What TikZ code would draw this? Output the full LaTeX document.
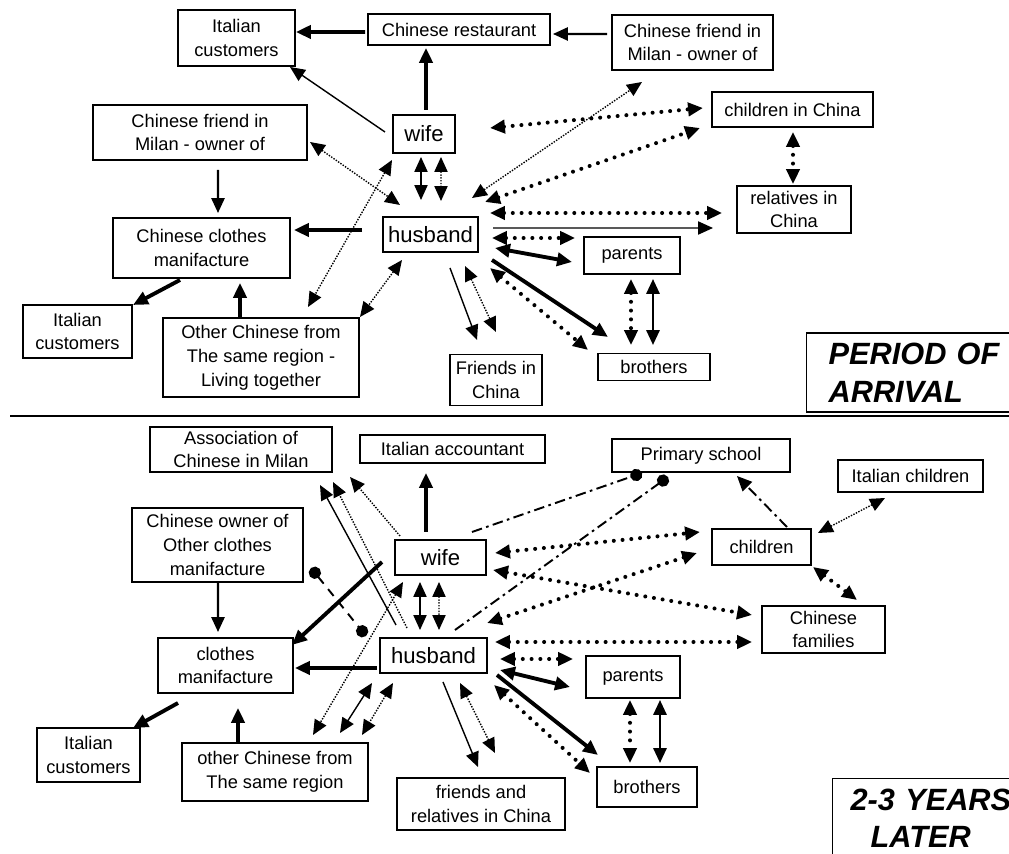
\documentclass[tikz,border=0pt]{standalone}
\usepackage{fontspec}
\setmainfont{Liberation Sans}
\usetikzlibrary{arrows.meta,calc}
\newlength\px\setlength\px{0.02cm}
\newcommand\boxfont{\fontsize{10.4}{13.6}\selectfont}
\newcommand\bigfont{\fontsize{12.6}{15}\selectfont}
\newcommand\ttlfont{\fontsize{17.5}{21.4}\selectfont\bfseries\itshape}
\tikzset{
  box/.style={draw,line width=0.7pt,inner sep=0pt,align=center,font=\boxfont},
  sz/.style 2 args={minimum width=#1\px,minimum height=#2\px},
  ttl/.style={draw,line width=0.7pt,inner ysep=0pt,font=\ttlfont},
  >={Triangle[length=8.5pt,width=7.5pt]},
  heavy/.style={line width=2.2pt,->},
  heavyboth/.style={line width=2.2pt,<->},
  mid/.style={line width=1.2pt,->},
  midboth/.style={line width=1.4pt,<->},
  lite/.style={line width=0.8pt,->},
  liteboth/.style={line width=0.8pt,<->},
  dotboth/.style={line width=2.3pt,line cap=round,dash pattern=on 0pt off 5pt,<->},
  fine/.style={line width=0.8pt,dash pattern=on 0.8pt off 0.8pt,->},
  fineboth/.style={line width=0.8pt,dash pattern=on 0.8pt off 0.8pt,<->},
  dashdot/.style={line width=1.1pt,dash pattern=on 6pt off 2.5pt on 1.5pt off 2.5pt},
  balls/.style={line width=1.1pt,dash pattern=on 5pt off 4pt,{Circle[length=7pt]}-{Circle[length=7pt]}}
}
\begin{document}
\begin{tikzpicture}[x=\px,y=-\px]
\useasboundingbox (0,0) rectangle (1009,854);
% period of arrival
\node[box,sz={117}{56}] (itcustA) at (236.5,38) {Italian\\customers};
\node[box,sz={182}{31}] (restA) at (459,29.5) {Chinese restaurant};
\node[box,sz={161}{55}] (friendRA) at (692.5,42.5) {Chinese friend in\\Milan - owner of};
\node[box,sz={62}{38},font=\bigfont] (wifeA) at (424,134) {wife};
\node[box,sz={214}{55}] (friendLA) at (200,132.5) {Chinese friend in\\Milan - owner of};
\node[box,sz={161}{35}] (childChA) at (792.5,109.5) {children in China};
\node[box,sz={114}{47}] (relChA) at (794,209.5) {relatives in\\China};
\node[box,sz={95}{35},font=\bigfont] (husbA) at (430.5,234.5) {husband};
\node[box,sz={177}{60}] (clothesA) at (201.5,248) {Chinese clothes\\manifacture};
\node[box,sz={96}{37}] (parentsA) at (632,255.5) {parents};
\node[box,sz={109}{53}] (itcustB) at (77.5,331.5) {Italian\\customers};
\node[box,sz={196}{79}] (otherA) at (261,357.5) {Other Chinese from\\The same region -\\Living together};
\node[box,sz={92}{51}] (friendsChA) at (496,380) {Friends in\\China};
\node[box,sz={112}{27}] (brothersA) at (654,367) {brothers};
\node[ttl,anchor=west,sz={224}{79},text width=180\px,inner xsep=22\px,align=left] (titleA) at (806,372.5) {PERIOD OF\\ARRIVAL};

\draw[heavy] ([shift={(-94,2.5)}]restA.center) -- ([shift={(59.5,-6)}]itcustA.center);
\draw[mid] ([shift={(-85.5,-8.5)}]friendRA.center) -- ([shift={(94,4.5)}]restA.center);
\draw[heavy] ([shift={(2,-24)}]wifeA.center) -- ([shift={(-33,18.5)}]restA.center);
\draw[lite] ([shift={(-39,-2)}]wifeA.center) -- ([shift={(53.5,29)}]itcustA.center);
\draw[mid] ([shift={(18,37.5)}]friendLA.center) -- ([shift={(16.5,-35)}]clothesA.center);
\draw[heavy] ([shift={(-68.5,-4.5)}]husbA.center) -- ([shift={(92.5,-18)}]clothesA.center);
\draw[heavy] ([shift={(-21.5,32)}]clothesA.center) -- ([shift={(55.5,-26.5)}]itcustB.center);
\draw[heavy] ([shift={(-21,-39.5)}]otherA.center) -- ([shift={(38.5,35)}]clothesA.center);
\draw[fineboth] ([shift={(110,9.5)}]friendLA.center) -- ([shift={(-30.5,-29.5)}]husbA.center);
\draw[fineboth] ([shift={(-32,26)}]wifeA.center) -- ([shift={(47,-50.5)}]otherA.center);
\draw[fineboth] ([shift={(-28.5,25.5)}]husbA.center) -- ([shift={(99,-40.5)}]otherA.center);
\draw[liteboth] ([shift={(-3,23)}]wifeA.center) -- ([shift={(-9.5,-34.5)}]husbA.center);
\draw[fineboth] ([shift={(17,23)}]wifeA.center) -- ([shift={(10.5,-33.5)}]husbA.center);
\draw[fineboth] ([shift={(41.5,-36.5)}]husbA.center) -- ([shift={(-50.5,39.5)}]friendRA.center);
\draw[dotboth] ([shift={(66,-6)}]wifeA.center) -- ([shift={(-89.5,-1.5)}]childChA.center);
\draw[dotboth] ([shift={(54.5,-32.5)}]husbA.center) -- ([shift={(-92.5,18.5)}]childChA.center);
\draw[dotboth] ([shift={(59.5,-21.5)}]husbA.center) -- ([shift={(-72,3.5)}]relChA.center);
\draw[lite] ([shift={(62.5,-6.5)}]husbA.center) -- ([shift={(-81,18.5)}]relChA.center);
\draw[dotboth] ([shift={(0.5,22.5)}]childChA.center) -- ([shift={(-1,-25.5)}]relChA.center);
\draw[dotboth] ([shift={(61.5,3.5)}]husbA.center) -- ([shift={(-57,-17.5)}]parentsA.center);
\draw[heavyboth] ([shift={(64.5,13.5)}]husbA.center) -- ([shift={(-60,6.5)}]parentsA.center);
\draw[heavy] ([shift={(61.5,25.5)}]husbA.center) -- ([shift={(-46,-30)}]brothersA.center);
\draw[dotboth] ([shift={(59.5,33.5)}]husbA.center) -- ([shift={(-66,-17)}]brothersA.center);
\draw[dotboth] ([shift={(-1,23.5)}]parentsA.center) -- ([shift={(-23,-22)}]brothersA.center);
\draw[midboth] ([shift={(21,23.5)}]parentsA.center) -- ([shift={(-1,-22)}]brothersA.center);
\draw[lite] ([shift={(19.5,33.5)}]husbA.center) -- ([shift={(-19,-40)}]friendsChA.center);
\draw[fineboth] ([shift={(34.5,31.5)}]husbA.center) -- ([shift={(0,-48)}]friendsChA.center);

\coordinate (sepL) at (10,416);\coordinate (sepR) at (1009,416);
\draw[line width=1.2pt] (sepL) -- (sepR);

% 2-3 years later
\node[box,sz={182}{45}] (assocB) at (241,449.5) {Association of\\Chinese in Milan};
\node[box,sz={185}{28}] (acctB) at (452.5,449) {Italian accountant};
\node[box,sz={178}{33}] (schoolB) at (701,455.5) {Primary school};
\node[box,sz={145}{32}] (itchildB) at (910.5,476) {Italian children};
\node[box,sz={171}{74}] (ownerB) at (217.5,545) {Chinese owner of\\Other clothes\\manifacture};
\node[box,sz={91}{35},font=\bigfont] (wifeB) at (440.5,557.5) {wife};
\node[box,sz={99}{36}] (childrenB) at (761.5,547) {children};
\node[box,sz={123}{47}] (chfamB) at (823.5,629.5) {Chinese\\families};
\node[box,sz={107}{35},font=\bigfont] (husbB) at (433.5,655.5) {husband};
\node[box,sz={135}{55}] (clothesB) at (225.5,665.5) {clothes\\manifacture};
\node[box,sz={94}{42}] (parentsB) at (633,677) {parents};
\node[box,sz={103}{54}] (itcustC) at (88.5,755) {Italian\\customers};
\node[box,sz={186}{58}] (otherB) at (275,772) {other Chinese from\\The same region};
\node[box,sz={168}{52}] (friendsRelB) at (481,804) {friends and\\relatives in China};
\node[box,sz={100}{40}] (brothersB) at (647,787) {brothers};
\node[ttl,anchor=north west,sz={200}{79},text width=176\px,inner xsep=12\px,align=left] (titleB) at (832,778) {\hspace*{6\px}2-3 YEARS\\\hspace*{26\px}LATER};

\draw[heavy] ([shift={(-14.5,-25.5)}]wifeB.center) -- ([shift={(-26.5,24)}]acctB.center);
\draw[mid] ([shift={(0.5,37)}]ownerB.center) -- ([shift={(-7.5,-33.5)}]clothesB.center);
\draw[heavy] ([shift={(-58.5,4.5)}]wifeB.center) -- ([shift={(66.5,-20.5)}]clothesB.center);
\draw[heavy] ([shift={(-56.5,12.5)}]husbB.center) -- ([shift={(69.5,2.5)}]clothesB.center);
\draw[heavy] ([shift={(-47.5,37.5)}]clothesB.center) -- ([shift={(44.5,-27)}]itcustC.center);
\draw[heavy] ([shift={(-37,-30)}]otherB.center) -- ([shift={(12.5,42.5)}]clothesB.center);
\draw[balls] ([shift={(93.5,23)}]ownerB.center) -- ([shift={(-67.5,-19.5)}]husbB.center);
\draw[lite] ([shift={(-37.5,-30.5)}]husbB.center) -- ([shift={(79,35.5)}]assocB.center);
\draw[fine] ([shift={(-26.5,-27.5)}]husbB.center) -- ([shift={(92,32.5)}]assocB.center);
\draw[fine] ([shift={(-40.5,-21.5)}]wifeB.center) -- ([shift={(109,27.5)}]assocB.center);
\draw[liteboth] ([shift={(-20.5,24.5)}]wifeB.center) -- ([shift={(-13.5,-25.5)}]husbB.center);
\draw[fineboth] ([shift={(-1.5,24.5)}]wifeB.center) -- ([shift={(5.5,-25.5)}]husbB.center);
\draw[fineboth] ([shift={(-37.5,24.5)}]wifeB.center) -- ([shift={(38,-37)}]otherB.center);
\draw[liteboth] ([shift={(-61.5,27.5)}]husbB.center) -- ([shift={(65,-39)}]otherB.center);
\draw[fineboth] ([shift={(-40.5,27.5)}]husbB.center) -- ([shift={(87,-37)}]otherB.center);
\draw[lite] ([shift={(9.5,26.5)}]husbB.center) -- ([shift={(-3,-37)}]friendsRelB.center);
\draw[fineboth] ([shift={(26.5,27.5)}]husbB.center) -- ([shift={(14,-51)}]friendsRelB.center);
\draw[dotboth] ([shift={(54.5,-4.5)}]wifeB.center) -- ([shift={(-61.5,-15)}]childrenB.center);
\draw[dotboth] ([shift={(53.5,-32.5)}]husbB.center) -- ([shift={(-64.5,6)}]childrenB.center);
\draw[dotboth] ([shift={(52.5,12.5)}]wifeB.center) -- ([shift={(-71.5,-14.5)}]chfamB.center);
\draw[dotboth] ([shift={(61.5,-13.5)}]husbB.center) -- ([shift={(-71.5,12.5)}]chfamB.center);
\draw[dotboth] ([shift={(66.5,3.5)}]husbB.center) -- ([shift={(-60,-18)}]parentsB.center);
\draw[heavyboth] ([shift={(66.5,14.5)}]husbB.center) -- ([shift={(-63,10)}]parentsB.center);
\draw[heavy] ([shift={(63.5,19.5)}]husbB.center) -- ([shift={(-49,-32)}]brothersB.center);
\draw[dotboth] ([shift={(60.5,29.5)}]husbB.center) -- ([shift={(-57,-14)}]brothersB.center);
\draw[dotboth] ([shift={(-3,23)}]parentsB.center) -- ([shift={(-17,-24)}]brothersB.center);
\draw[midboth] ([shift={(27,23)}]parentsB.center) -- ([shift={(13,-24)}]brothersB.center);
\draw[dashdot,-{Circle[length=7pt]}] ([shift={(31.5,-25.5)}]wifeB.center) -- ([shift={(-59,17.5)}]schoolB.center);
\draw[dashdot,-{Circle[length=7pt]}] ([shift={(21.5,-25.5)}]husbB.center) -- ([shift={(-33,21.5)}]schoolB.center);
\draw[dashdot,->] ([shift={(25.5,-20)}]childrenB.center) -- ([shift={(36,20.5)}]schoolB.center);
\draw[fineboth] ([shift={(56.5,-14)}]childrenB.center) -- ([shift={(-25.5,22)}]itchildB.center);
\draw[dotboth] ([shift={(51.5,20)}]childrenB.center) -- ([shift={(33.5,-29.5)}]chfamB.center);
\end{tikzpicture}
\end{document}
